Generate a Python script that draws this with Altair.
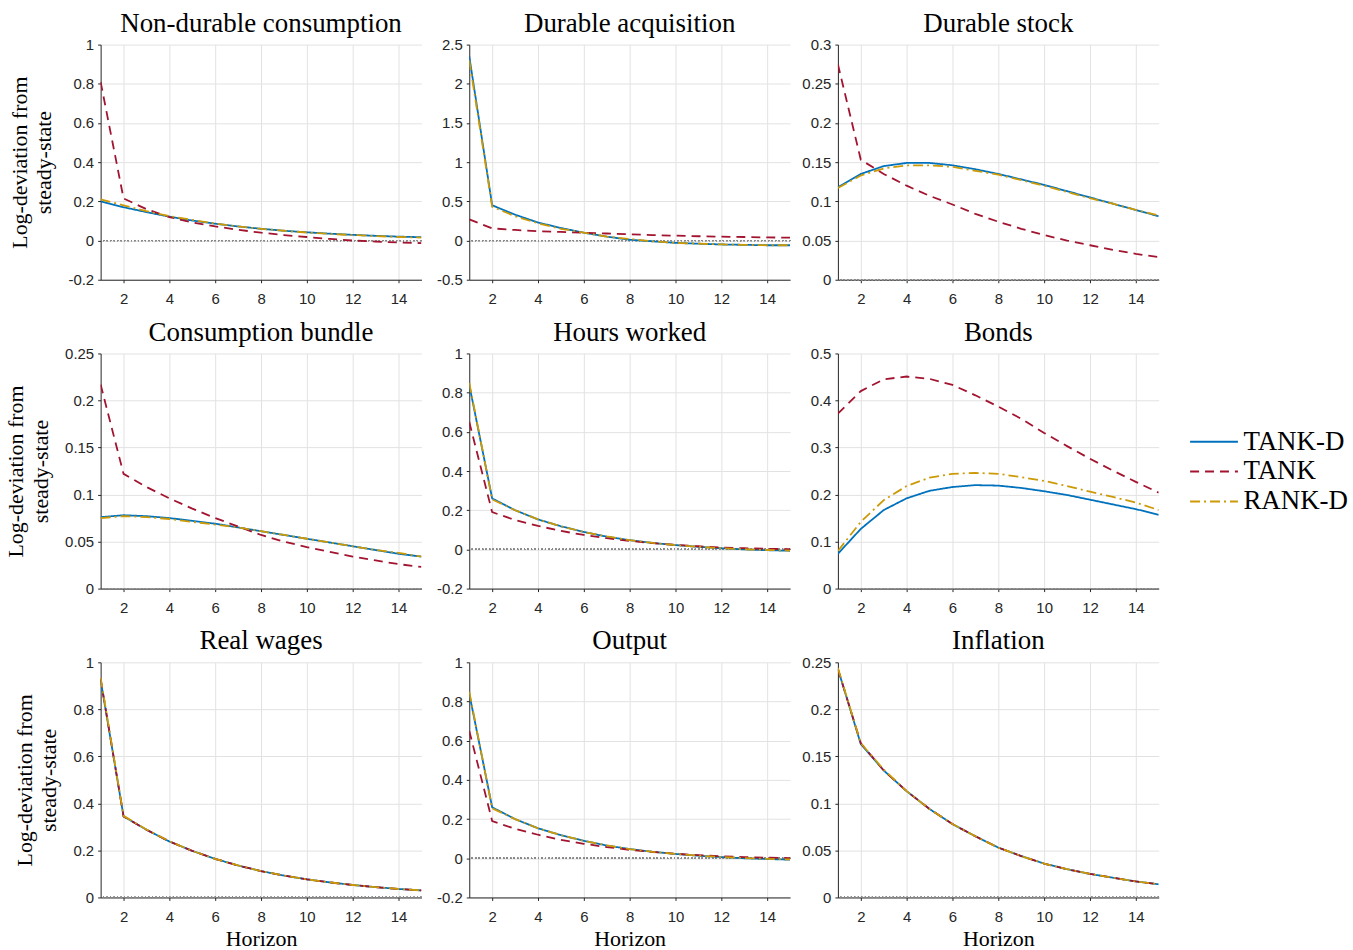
import altair as alt
import pandas as pd

horizon = list(range(1, 16))
models = ["TANK-D", "TANK", "RANK-D"]
colors = ["#0072BD", "#A2142F", "#CC9A06"]
dashes = [[1, 0], [9, 6], [10, 4, 2, 4]]

titles = ["Non-durable consumption", "Durable acquisition", "Durable stock",
          "Consumption bundle", "Hours worked", "Bonds",
          "Real wages", "Output", "Inflation"]

# Non-durable consumption
ndc_tankd = [0.20, 0.17, 0.145, 0.122, 0.102, 0.086, 0.072, 0.060, 0.050, 0.042, 0.035, 0.029, 0.024, 0.020, 0.017]
ndc_tank = [0.81, 0.215, 0.16, 0.12, 0.092, 0.072, 0.055, 0.040, 0.028, 0.018, 0.008, 0.0, -0.005, -0.010, -0.013]
ndc_rankd = [0.21, 0.18, 0.15, 0.125, 0.105, 0.087, 0.072, 0.060, 0.050, 0.041, 0.034, 0.028, 0.023, 0.018, 0.015]
# Durable acquisition
dac_tankd = [2.35, 0.45, 0.33, 0.23, 0.16, 0.10, 0.05, 0.01, -0.01, -0.03, -0.04, -0.05, -0.055, -0.06, -0.06]
dac_tank = [0.27, 0.155, 0.135, 0.12, 0.11, 0.10, 0.09, 0.08, 0.07, 0.062, 0.055, 0.05, 0.045, 0.04, 0.037]
dac_rankd = [2.30, 0.43, 0.31, 0.22, 0.15, 0.10, 0.05, 0.02, -0.01, -0.03, -0.04, -0.05, -0.055, -0.06, -0.06]
# Durable stock
dst_tankd = [0.118, 0.135, 0.145, 0.149, 0.149, 0.146, 0.141, 0.135, 0.128, 0.121, 0.113, 0.105, 0.097, 0.089, 0.081]
dst_tank = [0.275, 0.153, 0.135, 0.120, 0.107, 0.096, 0.084, 0.074, 0.065, 0.057, 0.050, 0.044, 0.038, 0.033, 0.029]
dst_rankd = [0.117, 0.133, 0.142, 0.146, 0.146, 0.144, 0.139, 0.134, 0.127, 0.120, 0.112, 0.104, 0.097, 0.089, 0.082]
# Consumption bundle
cb_tankd = [0.076, 0.078, 0.077, 0.075, 0.072, 0.069, 0.065, 0.061, 0.057, 0.053, 0.049, 0.045, 0.041, 0.037, 0.034]
cb_tank = [0.217, 0.122, 0.108, 0.096, 0.085, 0.075, 0.066, 0.057, 0.050, 0.044, 0.039, 0.034, 0.030, 0.026, 0.023]
cb_rankd = [0.075, 0.077, 0.076, 0.074, 0.071, 0.068, 0.065, 0.061, 0.057, 0.053, 0.049, 0.045, 0.041, 0.038, 0.034]
# Hours worked
hw_tankd = [0.84, 0.26, 0.20, 0.153, 0.118, 0.089, 0.065, 0.047, 0.033, 0.022, 0.013, 0.006, 0.0, -0.004, -0.007]
hw_tank = [0.65, 0.19, 0.15, 0.12, 0.094, 0.074, 0.057, 0.043, 0.032, 0.023, 0.016, 0.010, 0.006, 0.003, 0.001]
hw_rankd = [0.85, 0.255, 0.20, 0.153, 0.118, 0.089, 0.066, 0.047, 0.033, 0.022, 0.013, 0.006, 0.001, -0.003, -0.006]
# Bonds
bd_tankd = [0.074, 0.127, 0.167, 0.192, 0.208, 0.216, 0.220, 0.219, 0.214, 0.207, 0.199, 0.189, 0.179, 0.169, 0.157]
bd_tank = [0.372, 0.420, 0.445, 0.451, 0.446, 0.433, 0.411, 0.387, 0.361, 0.331, 0.303, 0.276, 0.251, 0.227, 0.204]
bd_rankd = [0.080, 0.142, 0.188, 0.218, 0.236, 0.244, 0.246, 0.244, 0.237, 0.229, 0.218, 0.206, 0.195, 0.183, 0.167]
# Real wages
rw_tankd = [0.925, 0.345, 0.288, 0.238, 0.198, 0.164, 0.136, 0.112, 0.093, 0.077, 0.064, 0.053, 0.044, 0.036, 0.030]
rw_tank = [0.93, 0.345, 0.288, 0.238, 0.198, 0.164, 0.136, 0.112, 0.093, 0.077, 0.064, 0.053, 0.044, 0.036, 0.030]
rw_rankd = [0.935, 0.347, 0.289, 0.239, 0.198, 0.164, 0.136, 0.112, 0.093, 0.077, 0.064, 0.053, 0.044, 0.036, 0.030]
# Output
out_tankd = [0.84, 0.26, 0.20, 0.153, 0.118, 0.089, 0.065, 0.047, 0.033, 0.022, 0.013, 0.006, 0.0, -0.004, -0.007]
out_tank = [0.65, 0.19, 0.15, 0.12, 0.094, 0.074, 0.057, 0.043, 0.032, 0.023, 0.016, 0.010, 0.006, 0.003, 0.001]
out_rankd = [0.85, 0.255, 0.20, 0.153, 0.118, 0.089, 0.066, 0.047, 0.033, 0.022, 0.013, 0.006, 0.001, -0.003, -0.006]
# Inflation
inf_tankd = [0.243, 0.163, 0.135, 0.113, 0.094, 0.078, 0.065, 0.053, 0.044, 0.036, 0.030, 0.025, 0.021, 0.017, 0.014]
inf_tank = [0.243, 0.164, 0.135, 0.113, 0.094, 0.078, 0.065, 0.053, 0.044, 0.036, 0.030, 0.025, 0.021, 0.017, 0.014]
inf_rankd = [0.244, 0.164, 0.136, 0.113, 0.094, 0.078, 0.065, 0.053, 0.044, 0.036, 0.030, 0.025, 0.021, 0.017, 0.014]

series = [
    (ndc_tankd, ndc_tank, ndc_rankd),
    (dac_tankd, dac_tank, dac_rankd),
    (dst_tankd, dst_tank, dst_rankd),
    (cb_tankd, cb_tank, cb_rankd),
    (hw_tankd, hw_tank, hw_rankd),
    (bd_tankd, bd_tank, bd_rankd),
    (rw_tankd, rw_tank, rw_rankd),
    (out_tankd, out_tank, out_rankd),
    (inf_tankd, inf_tank, inf_rankd),
]

y_ticks = [
    [-0.2, 0, 0.2, 0.4, 0.6, 0.8, 1],
    [-0.5, 0, 0.5, 1, 1.5, 2, 2.5],
    [0, 0.05, 0.1, 0.15, 0.2, 0.25, 0.3],
    [0, 0.05, 0.1, 0.15, 0.2, 0.25],
    [-0.2, 0, 0.2, 0.4, 0.6, 0.8, 1],
    [0, 0.1, 0.2, 0.3, 0.4, 0.5],
    [0, 0.2, 0.4, 0.6, 0.8, 1],
    [-0.2, 0, 0.2, 0.4, 0.6, 0.8, 1],
    [0, 0.05, 0.1, 0.15, 0.2, 0.25],
]
x_ticks = [2, 4, 6, 8, 10, 12, 14]

SERIF = "Liberation Serif"
SANS = "Liberation Sans"

legend = alt.Legend(
    orient="none", legendX=1104, legendY=385, title=None,
    symbolType="M-2,0H2", symbolSize=576, symbolStrokeWidth=2,
    labelFont=SERIF, labelFontSize=27, labelColor="black",
    rowPadding=2, labelOffset=16, labelLimit=300,
)

panels = []
for i, (title, vals, yt) in enumerate(zip(titles, series, y_ticks)):
    rows = []
    for m, v in zip(models, vals):
        for h, y in zip(horizon, v):
            rows.append({"h": h, "v": y, "model": m})
    df = pd.DataFrame(rows)
    col = i % 3
    row = i // 3
    ytitle = ["Log-deviation from", "steady-state"] if col == 0 else None
    xtitle = "Horizon" if row == 2 else None
    ykw = dict(values=yt, tickCount=20, labelExpr="'' + datum.value", labelOverlap=False, labelFlush=False)
    xkw = dict(values=x_ticks, tickCount=20, labelExpr="'' + datum.value", labelOverlap=False, labelFlush=False)
    yaxis = alt.Axis(title=ytitle, **ykw) if ytitle else alt.Axis(title=None, **ykw)
    xaxis = alt.Axis(title=xtitle, **xkw) if xtitle else alt.Axis(title=None, **xkw)
    lines = alt.Chart().mark_line(strokeWidth=1.8, clip=True).encode(
        x=alt.X("h:Q", scale=alt.Scale(domain=[1, 15], nice=False, zero=False), axis=xaxis),
        y=alt.Y("v:Q", scale=alt.Scale(domain=[yt[0], yt[-1]], nice=False, zero=False), axis=yaxis),
        color=alt.Color("model:N", scale=alt.Scale(domain=models, range=colors), legend=legend),
        strokeDash=alt.StrokeDash("model:N", scale=alt.Scale(domain=models, range=dashes), legend=legend),
        order=alt.Order("h:Q"),
    )
    zero = alt.Chart().mark_rule(color="#8a8a8a", strokeDash=[1, 2.5], strokeWidth=1).encode(
        y=alt.datum(0)
    )
    p = alt.layer(zero, lines, data=df).properties(
        width=322, height=236,
        title=alt.Title(title, font=SERIF, fontSize=27, fontWeight="normal", color="black", offset=0),
    )
    panels.append(p)

chart = alt.concat(*panels, columns=3, spacing={"row": 74, "column": 48}, bounds="flush").resolve_scale(
    color="shared", strokeDash="shared"
).properties(
    padding={"left": 4, "top": 8, "right": 5, "bottom": 5}
).configure_view(stroke=None).configure_axis(
    grid=True, gridColor="#e2e2e2", gridWidth=1,
    domainColor="#262626", domainWidth=1,
    tickColor="#262626", tickSize=3, tickWidth=1,
    labelFont=SANS, labelFontSize=15, labelColor="#262626",
    titleFont=SERIF, titleFontSize=22, titleFontWeight="normal", titleColor="black",
).configure_axisY(titlePadding=12, titleLineHeight=25, labelPadding=4).configure_axisX(titlePadding=4, labelPadding=9)

chart.save("out.html", embed_options={"renderer": "svg", "actions": False})
